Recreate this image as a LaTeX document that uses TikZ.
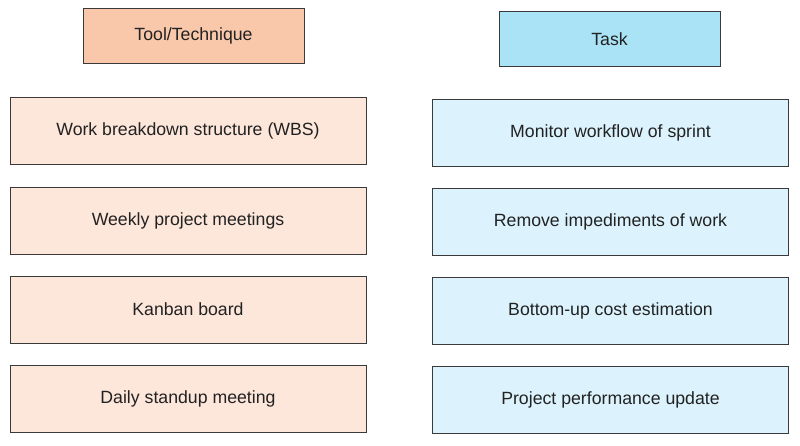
\documentclass[tikz,border=0pt]{standalone}
\usepackage{fontspec}
\setmainfont{Liberation Sans}
\usetikzlibrary{positioning}
\definecolor{toolhead}{HTML}{F9C8AB}
\definecolor{toolfill}{HTML}{FDE6DA}
\definecolor{taskhead}{HTML}{A9E3F5}
\definecolor{taskfill}{HTML}{DCF3FD}
\definecolor{boxline}{HTML}{3A3A3A}
\definecolor{boxtext}{HTML}{222222}

\begin{document}
\begin{tikzpicture}[x=1pt, y=-1pt,
    box/.style={draw=boxline, line width=1pt, text=boxtext,
      font=\fontsize{17.7}{21}\selectfont, inner sep=0pt},
    headbox/.style={box, minimum width=221pt, minimum height=55pt},
    rowbox/.style={box, minimum width=356pt, minimum height=67pt}]
  \useasboundingbox (0,0) rectangle (800,445);
  % column headers
  \node[headbox, fill=toolhead] (toolhead) at (193.5,35.5) {Tool/Technique};
  \node[headbox, fill=taskhead] (taskhead) at (609.5,39) {Task};
  % tool/technique column
  \foreach \i/\y/\t in {1/131/Work breakdown structure (WBS),
                        2/220.5/Weekly project meetings,
                        3/309.5/Kanban board,
                        4/399/Daily standup meeting} {
    \node[rowbox, fill=toolfill] (tool\i) at (188,\y) {\t};
  }
  % task column
  \foreach \i/\y/\t in {1/133/Monitor workflow of sprint,
                        2/221.5/Remove impediments of work,
                        3/311/Bottom-up cost estimation,
                        4/400/Project performance update} {
    \node[rowbox, fill=taskfill] (task\i) at (610.5,\y) {\t};
  }
\end{tikzpicture}
\end{document}
